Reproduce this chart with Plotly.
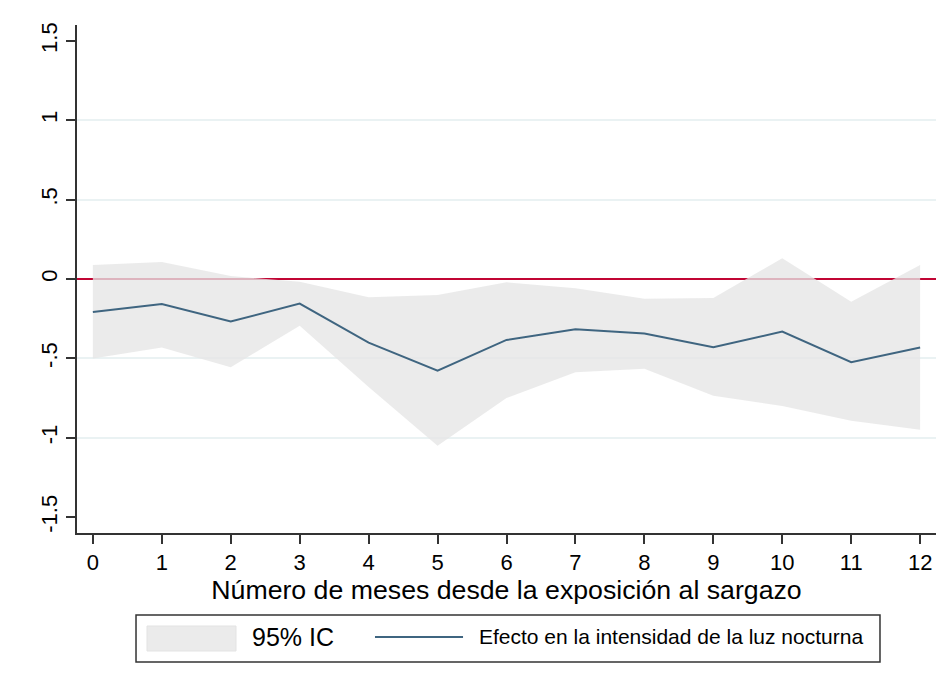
import plotly.graph_objects as go

meses = list(range(13))
efecto = [-0.208, -0.157, -0.268, -0.155, -0.401, -0.577, -0.384, -0.317, -0.343, -0.43, -0.331, -0.524, -0.432]
ic_sup = [0.088, 0.107, 0.019, -0.018, -0.115, -0.10, -0.021, -0.059, -0.124, -0.119, 0.13, -0.143, 0.088]
ic_inf = [-0.50, -0.432, -0.556, -0.294, -0.68, -1.05, -0.75, -0.587, -0.566, -0.736, -0.80, -0.893, -0.95]
y_ticks = [-1.5, -1, -0.5, 0, 0.5, 1, 1.5]
y_tick_labels = ["-1.5", "-1", "-.5", "0", ".5", "1", "1.5"]
grid_vals = [-1, -0.5, 0.5, 1]
x_range = [-0.23, 12.23]
y_range = [-1.6, 1.6]
linea_ref = 0

FONT = "Arial, Liberation Sans, sans-serif"
FILL = "rgba(229,229,229,0.78)"
LINE = "#3f6580"
RED = "#c10534"

fig = go.Figure()
# reference line at zero (drawn first so it sits under the band)
fig.add_trace(go.Scatter(x=x_range, y=[linea_ref, linea_ref], mode="lines",
                         line=dict(color=RED, width=2.2), showlegend=False, hoverinfo="skip"))
fig.add_trace(go.Scatter(x=meses, y=ic_sup, mode="lines", line=dict(width=0),
                         showlegend=False, hoverinfo="skip"))
fig.add_trace(go.Scatter(x=meses, y=ic_inf, mode="lines", line=dict(width=0),
                         fill="tonexty", fillcolor=FILL, name="95% IC", showlegend=False))
fig.add_trace(go.Scatter(x=meses, y=efecto, mode="lines", line=dict(color=LINE, width=2),
                         name="Efecto en la intensidad de la luz nocturna", showlegend=False))

# manual legend
fig.add_shape(type="rect", xref="paper", yref="paper", x0=0.0687, x1=0.9348, y0=-0.254, y1=-0.1614,
              line=dict(color="#333333", width=1.5), fillcolor="white")
fig.add_shape(type="rect", xref="paper", yref="paper", x0=0.0815, x1=0.1851, y0=-0.2323, y1=-0.1831,
              line=dict(color="#e3e3e3", width=1), fillcolor="#ebebeb")
fig.add_shape(type="line", xref="paper", yref="paper", x0=0.3469, x1=0.4494, y0=-0.2047, y1=-0.2047,
              line=dict(color=LINE, width=2))
fig.add_annotation(xref="paper", yref="paper", x=0.2014, y=-0.2047, text="95% IC",
                   showarrow=False, xanchor="left", yanchor="middle",
                   font=dict(family=FONT, size=25, color="black"))
fig.add_annotation(xref="paper", yref="paper", x=0.4657, y=-0.2047,
                   text="Efecto en la intensidad de la luz nocturna",
                   showarrow=False, xanchor="left", yanchor="middle",
                   font=dict(family=FONT, size=21, color="black"))

# faint outer frame
fig.add_shape(type="line", xref="paper", yref="paper", x0=-0.0815, x1=1.02, y0=1.0482, y1=1.0482,
              line=dict(color="#eef2f4", width=1.5))
fig.add_shape(type="line", xref="paper", yref="paper", x0=-0.0815, x1=-0.0815, y0=-0.31, y1=1.0482,
              line=dict(color="#eef2f4", width=1.5))

fig.update_layout(
    width=950, height=688,
    margin=dict(l=69, r=22, t=17, b=163),
    plot_bgcolor="rgba(0,0,0,0)", paper_bgcolor="white",
    font=dict(family=FONT, color="black"),
    showlegend=False,
    xaxis=dict(range=x_range, tickvals=meses, ticks="outside", ticklen=9, tickwidth=1.5,
               tickcolor="#333333", showline=True, linecolor="#333333", linewidth=1.5,
               showgrid=False, zeroline=False, tickfont=dict(family=FONT, size=22, color="black"),
               title=dict(text="Número de meses desde la exposición al sargazo",
                          font=dict(size=26.7), standoff=2)),
    yaxis=dict(range=y_range, tickvals=y_ticks, ticktext=y_tick_labels, tickangle=-90,
               ticks="outside", ticklen=9, tickwidth=1.5, tickcolor="#333333",
               showline=True, linecolor="#333333", linewidth=1.5,
               showgrid=False, zeroline=False, tickfont=dict(family=FONT, size=22, color="black"),
               minor=dict(tickvals=grid_vals, showgrid=True, gridcolor="#eaf2f3", gridwidth=1.5,
                          ticks="")),
)

fig.write_html("out.html")
